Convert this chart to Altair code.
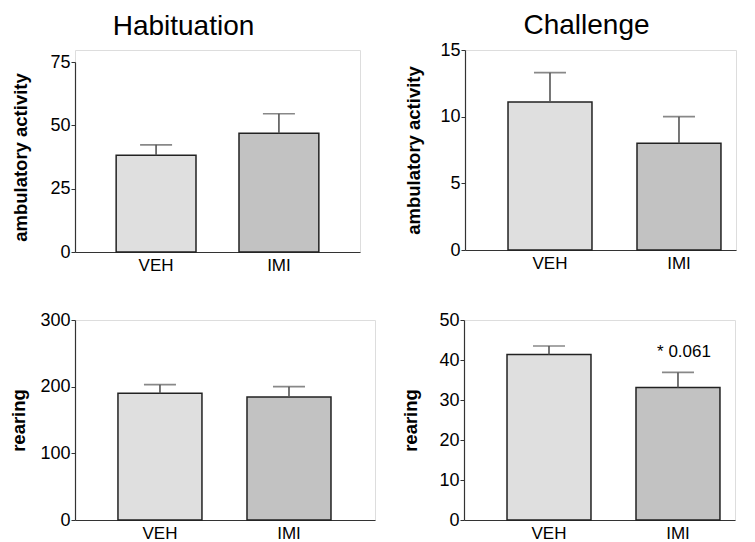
import altair as alt
import pandas as pd

groups = ["VEH", "IMI"]

hab_amb_mean = [38.2, 46.9]
hab_amb_sem = [4.1, 7.7]
chal_amb_mean = [11.1, 8.0]
chal_amb_sem = [2.2, 2.0]
hab_rear_mean = [190.0, 184.5]
hab_rear_sem = [13.0, 15.5]
chal_rear_mean = [41.4, 33.1]
chal_rear_sem = [2.1, 3.8]

hab_amb_ticks = [0, 25, 50, 75]
chal_amb_ticks = [0, 5, 10, 15]
hab_rear_ticks = [0, 100, 200, 300]
chal_rear_ticks = [0, 10, 20, 30, 40, 50]

ann_group = ["IMI"]
ann_text = ["* 0.061"]

FONT = "Liberation Sans"
FILLS = ["#dfdfdf", "#c2c2c2"]


def panel(means, sems, ticks, ytitle, extent, width, height, pi, po, align,
          yrange=None, title=None, title_offset=0, title_dx=0, title_dy=0,
          annotation=False):
    df = pd.DataFrame({
        "group": groups,
        "mean": means,
        "upper": [m + s for m, s in zip(means, sems)],
    })
    x = alt.X("group:N", sort=groups,
              scale=alt.Scale(paddingInner=pi, paddingOuter=po, align=align),
              axis=alt.Axis(title=None, labelAngle=0, ticks=False, labelPadding=5,
                            labelFontSize=17, labelColor="#000", domainColor="#333",
                            domainWidth=1.2, grid=False, labelFont=FONT))
    if yrange is not None:
        yscale = alt.Scale(domain=[0, ticks[-1]], nice=False, zero=True, range=yrange)
    else:
        yscale = alt.Scale(domain=[0, ticks[-1]], nice=False, zero=True)
    yaxis = alt.Axis(values=ticks, title=ytitle, titleFontSize=18.5, titleFontWeight="bold",
                     titleFont=FONT, titleColor="#000", titlePadding=0,
                     minExtent=extent, maxExtent=extent, labelFontSize=18,
                     labelFont=FONT, labelColor="#000", tickSize=4, labelPadding=1,
                     labelOverlap=False,
                     tickColor="#333", domainColor="#333", domainWidth=1.2, grid=False)
    base = alt.Chart(df)
    bars = base.mark_bar(stroke="#222", strokeWidth=1.5).encode(
        x=x,
        y=alt.Y("mean:Q", scale=yscale, axis=yaxis),
        color=alt.Color("group:N", scale=alt.Scale(domain=groups, range=FILLS), legend=None),
    )
    rule = base.mark_rule(color="#555", strokeWidth=1.6).encode(
        x=x, y=alt.Y("mean:Q", scale=yscale, axis=yaxis), y2="upper:Q")
    cap = base.mark_tick(color="#555", thickness=1.6, size=32).encode(
        x=x, y=alt.Y("upper:Q", scale=yscale, axis=yaxis))
    layers = [bars, rule, cap]
    if annotation:
        adf = pd.DataFrame({"group": ann_group, "text": ann_text})
        adf = adf.merge(df, on="group")
        txt = alt.Chart(adf).mark_text(fontSize=17, font=FONT, color="#000",
                                       dx=6, dy=-15, baseline="alphabetic").encode(
            x=x, y=alt.Y("upper:Q", scale=yscale, axis=yaxis), text="text:N")
        layers.append(txt)
    ch = alt.layer(*layers).properties(width=width, height=height)
    if title is not None:
        ch = ch.properties(title=alt.TitleParams(
            text=title, fontSize=28, fontWeight="normal", font=FONT, color="#000",
            offset=title_offset, dx=title_dx, dy=title_dy, anchor="middle"))
    return ch


tl = panel(hab_amb_mean, hab_amb_sem, hab_amb_ticks, "ambulatory activity",
           45, 285, 202, 0.35, 0.335, 0.5, yrange=[202, 12],
           title="Habituation", title_offset=0, title_dx=-34, title_dy=-9)
tr = panel(chal_amb_mean, chal_amb_sem, chal_amb_ticks, "ambulatory activity",
           42, 271, 200, 0.349, 0.225, 0.741, title="Challenge", title_offset=1, title_dx=-14)
bl = panel(hab_rear_mean, hab_rear_sem, hab_rear_ticks, "rearing",
           47, 300, 200, 0.349, 0.337, 0.494)
br = panel(chal_rear_mean, chal_rear_sem, chal_rear_ticks, "rearing",
           44, 271, 200, 0.349, 0.225, 0.741, annotation=True)

row1 = alt.hconcat(tl, tr, spacing=42)
row2 = alt.hconcat(bl, br, spacing=24)
chart = (alt.vconcat(row1, row2, spacing=36)
         .properties(padding={"left": 0, "top": 3, "right": 0, "bottom": 0})
         .configure_view(stroke=None)
         .configure(font=FONT))

chart.save("out.html", embed_options={"renderer": "svg", "actions": False})
